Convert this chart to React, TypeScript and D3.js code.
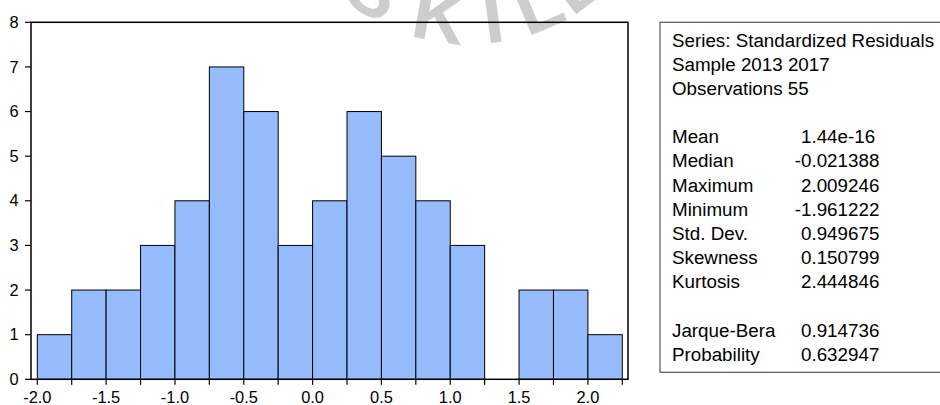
import React from "react";
import * as d3 from "d3";

// histogram bins (left edges) and counts
const binStarts = [-2.0, -1.75, -1.5, -1.25, -1.0, -0.75, -0.5, -0.25, 0.0, 0.25, 0.5, 0.75, 1.0, 1.25, 1.5, 1.75, 2.0];
const counts = [1, 2, 2, 3, 4, 7, 6, 3, 4, 6, 5, 4, 3, 0, 2, 2, 1];
const binWidth = 0.25;

const xTickValues = [-2.0, -1.75, -1.5, -1.25, -1.0, -0.75, -0.5, -0.25, 0.0, 0.25, 0.5, 0.75, 1.0, 1.25, 1.5, 1.75, 2.0, 2.25];
const xLabelValues = [-2.0, -1.5, -1.0, -0.5, 0.0, 0.5, 1.0, 1.5, 2.0];
const yTickValues = [0, 1, 2, 3, 4, 5, 6, 7, 8];

const headerLines = ["Series: Standardized Residuals", "Sample 2013 2017", "Observations 55"];
const statLabels = ["Mean", "Median", "Maximum", "Minimum", "Std. Dev.", "Skewness", "Kurtosis", "", "Jarque-Bera", "Probability"];
const statValues = ["1.44e-16", "-0.021388", "2.009246", "-1.961222", "0.949675", "0.150799", "2.444846", "", "0.914736", "0.632947"];

const watermark = ["S", "K", "I", "L", "L"];
const watermarkAngles = [-33, -10, 7.5, 23, 37];

const FONT = "'Liberation Sans', Arial, sans-serif";

export default function App() {
  const width = 940;
  const height = 405;

  const plot = { left: 31, right: 628, top: 22.3, bottom: 379.3 };

  const x = d3.scaleLinear().domain([-2, 2.25]).range([37.3, 622.3]);
  const y = d3.scaleLinear().domain([0, 8]).range([plot.bottom, plot.top]);

  const box = { x: 660, y: 22.3, bottom: 372.3 };
  const textX = 672;
  const valueX = 801;
  const fs = 18.8;
  const lineStep = 24.15;
  const firstBase = 46.7;

  // watermark arc (decoration, partly off the top of the picture)
  const wm = { cx: 470, cy: -156, r: 200 };

  return (
    <svg width={width} height={height} style={{ position: "absolute", left: 0, top: 0, background: "#fff" }} fontFamily={FONT}>
      <rect x={0} y={0} width={width} height={height} fill="#fff" />

      {watermark.map((ch, i) => {
        const a = (watermarkAngles[i] * Math.PI) / 180;
        const px = wm.cx + wm.r * Math.sin(a);
        const py = wm.cy + wm.r * Math.cos(a);
        return (
          <text key={i} x={px} y={py} textAnchor="middle" fontSize={74} fontWeight="bold" fill="#cdcdcd"
            transform={`rotate(${-watermarkAngles[i]}, ${px}, ${py})`}>
            {ch}
          </text>
        );
      })}

      {/* bars */}
      {binStarts.map((b, i) =>
        counts[i] > 0 ? (
          <rect key={i} x={x(b)} y={y(counts[i])} width={x(b + binWidth) - x(b)} height={y(0) - y(counts[i])}
            fill="#96bcfd" stroke="#000" strokeWidth={1} />
        ) : null
      )}

      {/* frame */}
      <rect x={plot.left} y={plot.top} width={plot.right - plot.left} height={plot.bottom - plot.top}
        fill="none" stroke="#000" strokeWidth={1.5} />

      {/* y axis */}
      {yTickValues.map((t) => (
        <g key={t}>
          <line x1={25} x2={plot.left} y1={y(t)} y2={y(t)} stroke="#000" strokeWidth={1.2} />
          <text x={18.5} y={y(t) + 5.6} textAnchor="end" fontSize={16.4} fill="#000">{t}</text>
        </g>
      ))}

      {/* x axis */}
      {xTickValues.map((t) => (
        <line key={t} x1={x(t)} x2={x(t)} y1={plot.bottom} y2={plot.bottom + 5.5} stroke="#000" strokeWidth={1.2} />
      ))}
      {xLabelValues.map((t) => (
        <text key={t} x={x(t)} y={403} textAnchor="middle" fontSize={16.4} fill="#000">
          {d3.format(".1f")(t).replace("−", "-")}
        </text>
      ))}

      {/* stats box */}
      <rect x={box.x} y={box.y} width={320} height={box.bottom - box.y} fill="#fff" stroke="#555" strokeWidth={1.2} />
      {headerLines.map((s, i) => (
        <text key={s} x={textX} y={firstBase + i * lineStep} fontSize={fs} fill="#000">{s}</text>
      ))}
      {statLabels.map((s, i) =>
        s ? (
          <g key={s}>
            <text x={textX} y={firstBase + (i + 4) * lineStep} fontSize={fs} fill="#000">{s}</text>
            <text x={statValues[i].startsWith("-") ? valueX - fs * 0.333 : valueX} y={firstBase + (i + 4) * lineStep}
              fontSize={fs} fill="#000">{statValues[i]}</text>
          </g>
        ) : null
      )}
    </svg>
  );
}
